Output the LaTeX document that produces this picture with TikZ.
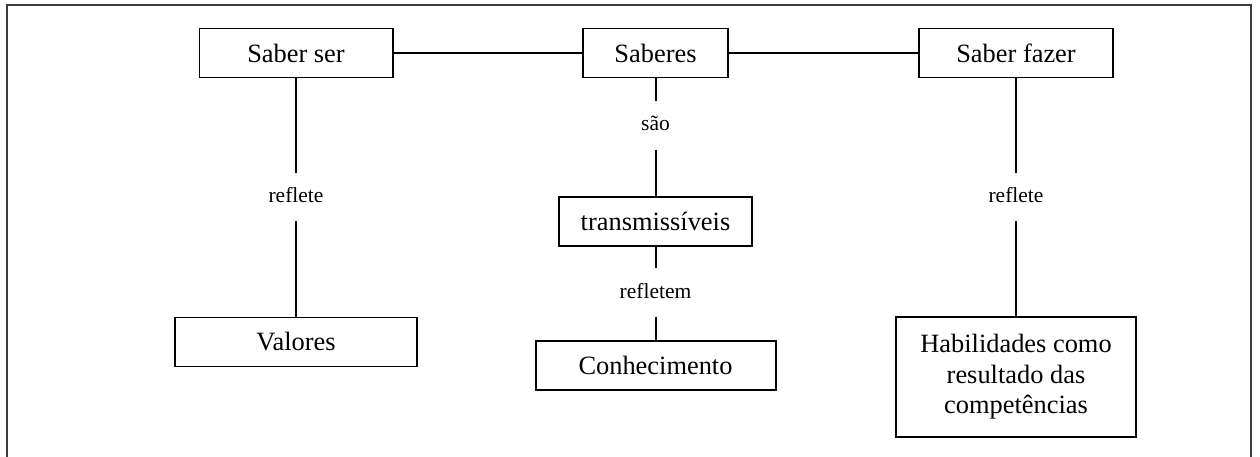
\documentclass[tikz,border=0pt]{standalone}
\usepackage{fontspec}
\setmainfont{Liberation Serif}
\usepackage{xcolor}
\definecolor{Black}{RGB}{0,0,0}
\definecolor{White}{RGB}{255,255,255}
\definecolor{Frame}{RGB}{60,60,60}
\usepackage{tikz}

\tikzset{
	conceito/.style={draw=Black, fill=White, line width=0.7mm, inner sep=0pt, align=center, minimum height=49pt, font=\fontsize{26.4}{30.5}\selectfont},
	ligacao/.style={inner xsep=2pt, inner ysep=14.5pt, text height=15pt, text depth=4pt, font=\fontsize{21.5}{24}\selectfont},
	linha/.style={-, draw=Black, line width=0.7mm}
}

\begin{document}
\begin{tikzpicture}[x=1pt, y=-1pt]
		
		\useasboundingbox (0,0) rectangle (1260,457);
		
		% Frame
		\draw[-, draw=Frame, line width=0.6mm] (7,457) -- (7,5) -- (1251,5) -- (1251,457);
		
		% Concepts
		\node[conceito, minimum width=193pt] (saberser) at (296,53) {Saber ser};
		\node[conceito, minimum width=145pt] (saberes) at (655.5,53) {Saberes};
		\node[conceito, minimum width=194pt] (saberfazer) at (1016,53) {Saber fazer};
		
		\node[conceito, minimum width=193pt] (transmissiveis) at (655.5,221.5) {transmissíveis};
		
		\node[conceito, minimum width=242pt] (valores) at (296,342) {Valores};
		\node[conceito, minimum width=240pt] (conhecimento) at (655.5,365.5) {Conhecimento};
		\node[conceito, minimum width=240pt, minimum height=120pt] (habilidades) at (1016,377) {Habilidades como\\resultado das\\competências};
		
		% Links
		\node[ligacao] (refleteA) at (296,197) {reflete};
		\node[ligacao] (sao) at (655.5,125.5) {são};
		\node[ligacao] (refletem) at (655.5,292.5) {refletem};
		\node[ligacao] (refleteB) at (1016,197) {reflete};
		
		% Lines
		\draw[linha] (saberser.east) -- (saberes.west);
		\draw[linha] (saberes.east) -- (saberfazer.west);
		
		\draw[linha] (saberser.south) -- (refleteA.north);
		\draw[linha] (refleteA.south) -- (valores.north);
		
		\draw[linha] (saberes.south) -- (sao.north);
		\draw[linha] (sao.south) -- (transmissiveis.north);
		\draw[linha] (transmissiveis.south) -- (refletem.north);
		\draw[linha] (refletem.south) -- (conhecimento.north);
		
		\draw[linha] (saberfazer.south) -- (refleteB.north);
		\draw[linha] (refleteB.south) -- (habilidades.north);
		
	\end{tikzpicture}
\end{document}
